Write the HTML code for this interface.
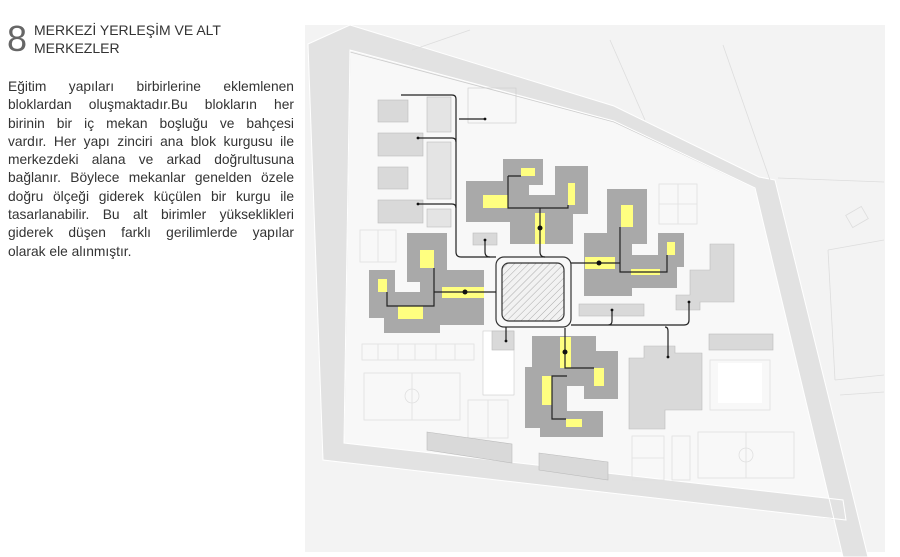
<!DOCTYPE html>
<html><head><meta charset="utf-8"><style>
html,body{margin:0;padding:0;background:#fff;}
body{width:900px;height:557px;position:relative;overflow:hidden;font-family:"Liberation Sans",sans-serif;color:#333;}
#num{position:absolute;left:7px;top:21px;font-size:36px;color:#666;line-height:1;}
#title{position:absolute;left:34px;top:21px;font-size:14px;line-height:18px;color:#333;}
#body{position:absolute;left:8px;top:78px;width:286px;font-size:13.8px;line-height:18.3px;color:#333;}
#body div{text-align:justify;text-align-last:justify;white-space:nowrap;}
#body div.l{text-align-last:left;}
svg{position:absolute;left:0;top:0;}
</style></head><body>
<div id="num">8</div>
<div id="title">MERKEZİ YERLEŞİM VE ALT<br>MERKEZLER</div>
<div id="body">
<div>Eğitim yapıları birbirlerine eklemlenen</div>
<div>bloklardan oluşmaktadır.Bu blokların her</div>
<div>birinin bir iç mekan boşluğu ve bahçesi</div>
<div>vardır. Her yapı zinciri ana blok kurgusu ile</div>
<div>merkezdeki alana ve arkad doğrultusuna</div>
<div>bağlanır. Böylece mekanlar genelden özele</div>
<div>doğru ölçeği giderek küçülen bir kurgu ile</div>
<div>tasarlanabilir. Bu alt birimler yükseklikleri</div>
<div>giderek düşen farklı gerilimlerde yapılar</div>
<div class="l">olarak ele alınmıştır.</div>
</div>
<svg width="900" height="557" viewBox="0 0 900 557">
<defs>
<pattern id="h" width="5" height="5" patternUnits="userSpaceOnUse" patternTransform="rotate(45)"><rect width="5" height="5" fill="#f2f2f2"/><line x1="0" y1="0" x2="0" y2="5" stroke="#999" stroke-width="0.8"/></pattern>
</defs>
<rect x="305" y="25" width="580" height="527" fill="#f3f3f3"/>
<polygon points="350,52 614,122 755,188 840,520 344,444" fill="#f8f8f8" stroke="#ccc" stroke-width="0.8"/>
<polygon points="308,44 350,25 614,106 759,177 775,180 868,557 843,557 755,188 614,121 350,50 344,443 843,500 846,520 323,460" fill="#e2e2e2" stroke="#fff" stroke-width="1"/>
<g stroke="#ddd" stroke-width="0.8" fill="none">
<line x1="610" y1="40" x2="645" y2="120"/><line x1="723" y1="45" x2="770" y2="180"/>
<line x1="412" y1="50" x2="470" y2="30"/><line x1="778" y1="178" x2="884" y2="182"/>
<rect x="848" y="210" width="18" height="14" transform="rotate(-30 857 217)"/>
<line x1="828" y1="250" x2="884" y2="240"/><line x1="828" y1="250" x2="835" y2="380"/>
<line x1="835" y1="380" x2="884" y2="375"/><line x1="840" y1="395" x2="884" y2="392"/>
</g>
<g stroke="#e0e0e0" stroke-width="0.8" fill="none">
<rect x="659" y="184" width="38" height="40"/><line x1="678" y1="184" x2="678" y2="224"/><line x1="659" y1="204" x2="697" y2="204"/>
<rect x="360" y="230" width="36" height="32"/><line x1="378" y1="230" x2="378" y2="262"/>
<rect x="362" y="344" width="112" height="16"/><line x1="378" y1="344" x2="378" y2="360"/><line x1="398" y1="344" x2="398" y2="360"/><line x1="415" y1="344" x2="415" y2="360"/><line x1="436" y1="344" x2="436" y2="360"/><line x1="455" y1="344" x2="455" y2="360"/>
<rect x="364" y="373" width="96" height="47"/><line x1="412" y1="373" x2="412" y2="420"/><circle cx="412" cy="396" r="7"/>
<rect x="468" y="400" width="40" height="38"/><line x1="488" y1="400" x2="488" y2="438"/>
<rect x="632" y="436" width="32" height="44"/><line x1="632" y1="458" x2="664" y2="458"/>
<rect x="672" y="436" width="18" height="44"/>
<rect x="698" y="432" width="96" height="46"/><line x1="746" y1="432" x2="746" y2="478"/><circle cx="746" cy="455" r="7"/>
<rect x="710" y="360" width="60" height="50"/>
</g>
<rect x="718" y="363" width="44" height="40" fill="#fff"/>
<rect x="483" y="331" width="31" height="64" fill="#fff" stroke="#ccc" stroke-width="0.6"/>
<g fill="#d9d9d9" stroke="#bbb" stroke-width="0.6">
<rect x="378" y="100" width="30" height="22"/><rect x="378" y="133" width="45" height="23"/>
<rect x="378" y="167" width="30" height="22"/><rect x="378" y="200" width="45" height="23"/>
<rect x="427" y="97" width="24" height="35" fill="#e4e4e4"/><rect x="427" y="142" width="24" height="57" fill="#e4e4e4"/><rect x="427" y="209" width="24" height="18" fill="#e4e4e4"/>
<rect x="473" y="233" width="24" height="12"/><rect x="492" y="331" width="22" height="19"/>
<polygon points="676,295 690,295 690,270 710,270 710,244 734,244 734,302 700,302 700,310 676,310"/>
<rect x="579" y="304" width="65" height="12"/><rect x="709" y="334" width="64" height="16"/>
<polygon points="644,346 675,346 675,353 702,353 702,410 665,410 665,429 629,429 629,358 644,358"/>
<polygon points="427,432 512,444 512,463 427,450"/><polygon points="539,453 608,462 608,480 539,470"/>
</g>
<rect x="468" y="88" width="48" height="35" fill="none" stroke="#ccc" stroke-width="0.6"/>
<g fill="#a9a9a9">
<polygon points="503,159 543,159 543,185 529,185 529,195 555,195 555,166 588,166 588,214 573,214 573,244 510,244 510,222 466,222 466,181 503,181"/>
<polygon points="407,233 447,233 447,270 484,270 484,325 440,325 440,333 384,333 384,318 369,318 369,270 395,270 395,292 420,292 420,282 407,282"/>
<polygon points="607,189 647,189 647,244 632,244 632,255 658,255 658,233 684,233 684,267 677,267 677,288 632,288 632,296 584,296 584,233 607,233"/>
<polygon points="532,336 596,336 596,351 618,351 618,399 584,399 584,386 567,386 567,411 603,411 603,437 540,437 540,428 525,428 525,367 532,367"/>
</g>
<g fill="#ffff80">
<rect x="521" y="168" width="14" height="8"/><rect x="483" y="195" width="25" height="13"/><rect x="568" y="183" width="7" height="22"/><rect x="535" y="213" width="10" height="31"/>
<rect x="420" y="250" width="14" height="18"/><rect x="378" y="279" width="9" height="13"/><rect x="398" y="306" width="25" height="13"/><rect x="442" y="287" width="42" height="11"/>
<rect x="621" y="205" width="12" height="22"/><rect x="667" y="242" width="8" height="13"/><rect x="585" y="257" width="30" height="12"/><rect x="631" y="269" width="29" height="6"/>
<rect x="560" y="337" width="11" height="31"/><rect x="594" y="368" width="10" height="18"/><rect x="542" y="376" width="10" height="29"/><rect x="566" y="419" width="16" height="8"/>
</g>
<rect x="496" y="257" width="75" height="70" rx="8" fill="#f8f8f8" stroke="#333" stroke-width="1.2"/>
<rect x="502" y="263" width="62" height="58" rx="7" fill="url(#h)" stroke="#333" stroke-width="1.2"/>
<g stroke="#222" stroke-width="1.2" fill="none">
<path d="M401,95 H452 Q456,95 456,99 V252 Q456,257 461,257 H496"/>
<path d="M459,119 H485"/><path d="M418,138 H452 Q456,138 456,142"/><path d="M418,204 H452 Q456,204 456,208"/>
<path d="M485,240 V252 Q485,257 490,257"/>
<path d="M508,176 H521 M508,176 V208 H568 V205 M540,208 V252 Q540,257 545,257"/>
<path d="M434,292 H496 M434,268 V306 H387 V292"/>
<path d="M571,263 H620 M620,227 V272 H667 V255"/>
<path d="M571,325 H684 Q689,325 689,320 V302 M612,310 V321 Q612,325 608,325 M665,327 Q668,327 668,331 V357"/>
<path d="M565,328 V368 H594 M567,376 H552 V419 H566"/>
<path d="M506,327 V341"/>
</g>
<g fill="#111">
<circle cx="540" cy="228" r="2.5"/><circle cx="465" cy="292" r="2.5"/><circle cx="599" cy="263" r="2.5"/><circle cx="565" cy="352" r="2.5"/>
<circle cx="485" cy="119" r="1.4"/><circle cx="418" cy="138" r="1.4"/><circle cx="418" cy="204" r="1.4"/><circle cx="485" cy="240" r="1.4"/>
<circle cx="689" cy="302" r="1.4"/><circle cx="612" cy="310" r="1.4"/><circle cx="668" cy="357" r="1.4"/><circle cx="506" cy="341" r="1.4"/>
</g>
</svg>
</body></html>
